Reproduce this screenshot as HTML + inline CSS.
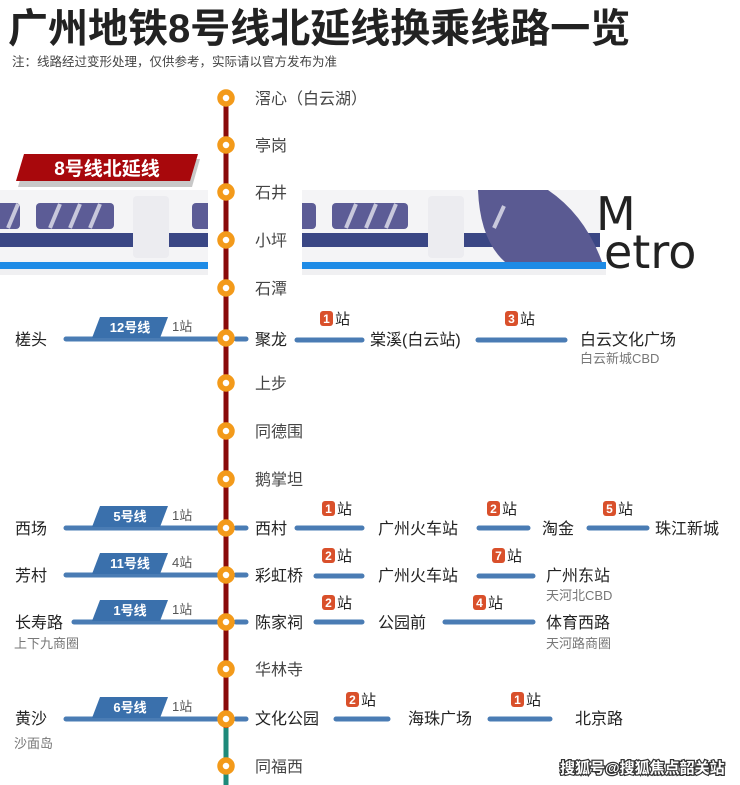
<!DOCTYPE html>
<html><head><meta charset="utf-8"><style>
html,body{margin:0;padding:0;background:#fff;}
svg{display:block;font-family:"Liberation Sans","Noto Sans CJK SC",sans-serif;}
</style></head><body>
<svg width="740" height="785" viewBox="0 0 740 785" xmlns="http://www.w3.org/2000/svg">
<text x="8" y="42" font-size="40" font-weight="bold" fill="#222">广州地铁8号线北延线换乘线路一览</text>
<text x="12" y="66" font-size="12.5" fill="#444">注：线路经过变形处理，仅供参考，实际请以官方发布为准</text>

<g>
<rect x="0" y="190" width="600" height="72" fill="#f4f4f6"/>
<rect x="0" y="233" width="600" height="14" fill="#3a4684"/>
<path d="M478 190 L548 190 Q585 215 602 262 L505 262 Q480 240 478 190 Z" fill="#5a5a92"/>
<g fill="#5c5c96">
<rect x="-5" y="203" width="25" height="26" rx="4"/>
<rect x="36" y="203" width="78" height="26" rx="4"/>
<rect x="138" y="203" width="26" height="26" rx="4"/>
<rect x="192" y="203" width="20" height="26" rx="4"/>
<rect x="296" y="203" width="20" height="26" rx="4"/>
<rect x="332" y="203" width="76" height="26" rx="4"/>
<rect x="432" y="203" width="28" height="26" rx="4"/>
</g>
<g stroke="#c8c8dc" stroke-width="4">
<line x1="8" y1="228" x2="18" y2="204"/><line x1="50" y1="228" x2="60" y2="204"/><line x1="70" y1="228" x2="80" y2="204"/><line x1="90" y1="228" x2="100" y2="204"/>
<line x1="148" y1="226" x2="158" y2="206"/><line x1="346" y1="228" x2="356" y2="204"/><line x1="366" y1="228" x2="376" y2="204"/><line x1="386" y1="228" x2="396" y2="204"/>
<line x1="440" y1="226" x2="450" y2="206"/><line x1="494" y1="228" x2="504" y2="206"/>
</g>
<rect x="133" y="196" width="36" height="62" rx="4" fill="#ececf0"/>
<rect x="428" y="196" width="36" height="62" rx="4" fill="#ececf0"/>
<rect x="0" y="262" width="606" height="7" fill="#1e8be6"/>
<rect x="0" y="269" width="606" height="6" fill="#f0f0f2"/>
<rect x="208" y="185" width="94" height="95" fill="#fff"/>
<text x="596" y="230" font-size="46" fill="#222" font-family="DejaVu Sans,sans-serif">M</text>
<text x="604" y="268" font-size="46" fill="#222" font-family="DejaVu Sans,sans-serif">etro</text>
</g>

<polygon points="24,156 198,156 190,184 16,184" fill="#c8c8c8" transform="translate(2,3)"/>
<polygon points="24,154 198,154 190,181 16,181" fill="#a8080c"/>
<text x="107" y="175" font-size="19" font-weight="bold" fill="#fff" text-anchor="middle">8号线北延线</text>

<line x1="226" y1="90" x2="226" y2="728" stroke="#8a0a0a" stroke-width="5"/>
<line x1="226" y1="728" x2="226" y2="785" stroke="#1e8a7a" stroke-width="5"/>

<g stroke="#4a7cb4" stroke-width="5" stroke-linecap="round">
<line x1="66" y1="339" x2="218" y2="339"/>
<line x1="66" y1="528" x2="218" y2="528"/>
<line x1="66" y1="575" x2="218" y2="575"/>
<line x1="74" y1="622" x2="218" y2="622"/>
<line x1="66" y1="719" x2="218" y2="719"/>
<line x1="236" y1="339" x2="246" y2="339"/>
<line x1="236" y1="528" x2="246" y2="528"/>
<line x1="236" y1="575" x2="246" y2="575"/>
<line x1="236" y1="622" x2="246" y2="622"/>
<line x1="236" y1="719" x2="246" y2="719"/>
</g>
<g fill="#3a70ac">
<polygon points="100,317 168,317 160,338 92,338"/>
<polygon points="100,506 168,506 160,527 92,527"/>
<polygon points="100,553 168,553 160,574 92,574"/>
<polygon points="100,600 168,600 160,621 92,621"/>
<polygon points="100,697 168,697 160,718 92,718"/>
</g>
<g fill="#fff" font-size="13" font-weight="bold" text-anchor="middle">
<text x="130" y="332">12号线</text>
<text x="130" y="521">5号线</text>
<text x="130" y="568">11号线</text>
<text x="130" y="615">1号线</text>
<text x="130" y="712">6号线</text>
</g>
<g fill="#555" font-size="13">
<text x="172" y="331">1站</text>
<text x="172" y="520">1站</text>
<text x="172" y="567">4站</text>
<text x="172" y="614">1站</text>
<text x="172" y="711">1站</text>
</g>
<g fill="#222" font-size="16">
<text x="15" y="345">槎头</text>
<text x="15" y="534">西场</text>
<text x="15" y="581">芳村</text>
<text x="15" y="628">长寿路</text>
<text x="15" y="724">黄沙</text>
</g>
<g fill="#777" font-size="13">
<text x="14" y="648">上下九商圈</text>
<text x="14" y="748">沙面岛</text>
</g>

<g stroke="#4a7cb4" stroke-width="5" stroke-linecap="round">
<line x1="297" y1="340" x2="362" y2="340"/><line x1="478" y1="340" x2="565" y2="340"/>
<line x1="297" y1="528" x2="362" y2="528"/><line x1="479" y1="528" x2="528" y2="528"/><line x1="589" y1="528" x2="647" y2="528"/>
<line x1="316" y1="576" x2="362" y2="576"/><line x1="479" y1="576" x2="533" y2="576"/>
<line x1="316" y1="622" x2="362" y2="622"/><line x1="445" y1="622" x2="533" y2="622"/>
<line x1="336" y1="719" x2="388" y2="719"/><line x1="490" y1="719" x2="550" y2="719"/>
</g>
<g fill="#222" font-size="16">
<text x="255" y="345">聚龙</text><text x="370" y="345">棠溪(白云站)</text><text x="580" y="345">白云文化广场</text>
<text x="255" y="534">西村</text><text x="378" y="534">广州火车站</text><text x="542" y="534">淘金</text><text x="655" y="534">珠江新城</text>
<text x="255" y="581">彩虹桥</text><text x="378" y="581">广州火车站</text><text x="546" y="581">广州东站</text>
<text x="255" y="628">陈家祠</text><text x="378" y="628">公园前</text><text x="546" y="628">体育西路</text>
<text x="255" y="724">文化公园</text><text x="408" y="724">海珠广场</text><text x="575" y="724">北京路</text>
</g>
<g fill="#777" font-size="13">
<text x="580" y="363">白云新城CBD</text>
<text x="546" y="600">天河北CBD</text>
<text x="546" y="648">天河路商圈</text>
</g>
<g font-size="15" fill="#222">
<g><rect x="320" y="311" width="13" height="15" rx="3" fill="#d9502b"/><text x="326.5" y="323" fill="#fff" font-size="12" font-weight="bold" text-anchor="middle">1</text><text x="335" y="324">站</text></g>
<g><rect x="505" y="311" width="13" height="15" rx="3" fill="#d9502b"/><text x="511.5" y="323" fill="#fff" font-size="12" font-weight="bold" text-anchor="middle">3</text><text x="520" y="324">站</text></g>
<g><rect x="322" y="501" width="13" height="15" rx="3" fill="#d9502b"/><text x="328.5" y="513" fill="#fff" font-size="12" font-weight="bold" text-anchor="middle">1</text><text x="337" y="514">站</text></g>
<g><rect x="487" y="501" width="13" height="15" rx="3" fill="#d9502b"/><text x="493.5" y="513" fill="#fff" font-size="12" font-weight="bold" text-anchor="middle">2</text><text x="502" y="514">站</text></g>
<g><rect x="603" y="501" width="13" height="15" rx="3" fill="#d9502b"/><text x="609.5" y="513" fill="#fff" font-size="12" font-weight="bold" text-anchor="middle">5</text><text x="618" y="514">站</text></g>
<g><rect x="322" y="548" width="13" height="15" rx="3" fill="#d9502b"/><text x="328.5" y="560" fill="#fff" font-size="12" font-weight="bold" text-anchor="middle">2</text><text x="337" y="561">站</text></g>
<g><rect x="492" y="548" width="13" height="15" rx="3" fill="#d9502b"/><text x="498.5" y="560" fill="#fff" font-size="12" font-weight="bold" text-anchor="middle">7</text><text x="507" y="561">站</text></g>
<g><rect x="322" y="595" width="13" height="15" rx="3" fill="#d9502b"/><text x="328.5" y="607" fill="#fff" font-size="12" font-weight="bold" text-anchor="middle">2</text><text x="337" y="608">站</text></g>
<g><rect x="473" y="595" width="13" height="15" rx="3" fill="#d9502b"/><text x="479.5" y="607" fill="#fff" font-size="12" font-weight="bold" text-anchor="middle">4</text><text x="488" y="608">站</text></g>
<g><rect x="346" y="692" width="13" height="15" rx="3" fill="#d9502b"/><text x="352.5" y="704" fill="#fff" font-size="12" font-weight="bold" text-anchor="middle">2</text><text x="361" y="705">站</text></g>
<g><rect x="511" y="692" width="13" height="15" rx="3" fill="#d9502b"/><text x="517.5" y="704" fill="#fff" font-size="12" font-weight="bold" text-anchor="middle">1</text><text x="526" y="705">站</text></g>
</g>

<g fill="#fff" stroke="#f39a1a" stroke-width="5.5">
<circle cx="226" cy="98" r="6"/><circle cx="226" cy="145" r="6"/><circle cx="226" cy="192" r="6"/>
<circle cx="226" cy="240" r="6"/><circle cx="226" cy="288" r="6"/><circle cx="226" cy="338" r="6"/>
<circle cx="226" cy="383" r="6"/><circle cx="226" cy="431" r="6"/><circle cx="226" cy="479" r="6"/>
<circle cx="226" cy="528" r="6"/><circle cx="226" cy="575" r="6"/><circle cx="226" cy="622" r="6"/>
<circle cx="226" cy="669" r="6"/><circle cx="226" cy="719" r="6"/><circle cx="226" cy="766" r="6"/>
</g>
<g fill="#444" font-size="16">
<text x="255" y="104">滘心（白云湖）</text>
<text x="255" y="151">亭岗</text>
<text x="255" y="198">石井</text>
<text x="255" y="246">小坪</text>
<text x="255" y="294">石潭</text>
<text x="255" y="389">上步</text>
<text x="255" y="437">同德围</text>
<text x="255" y="485">鹅掌坦</text>
<text x="255" y="675">华林寺</text>
<text x="255" y="772">同福西</text>
</g>
<text x="560" y="773" font-size="15" font-weight="bold" fill="#fff" stroke="#333" stroke-width="2.5" paint-order="stroke">搜狐号@搜狐焦点韶关站</text>
</svg>
</body></html>
